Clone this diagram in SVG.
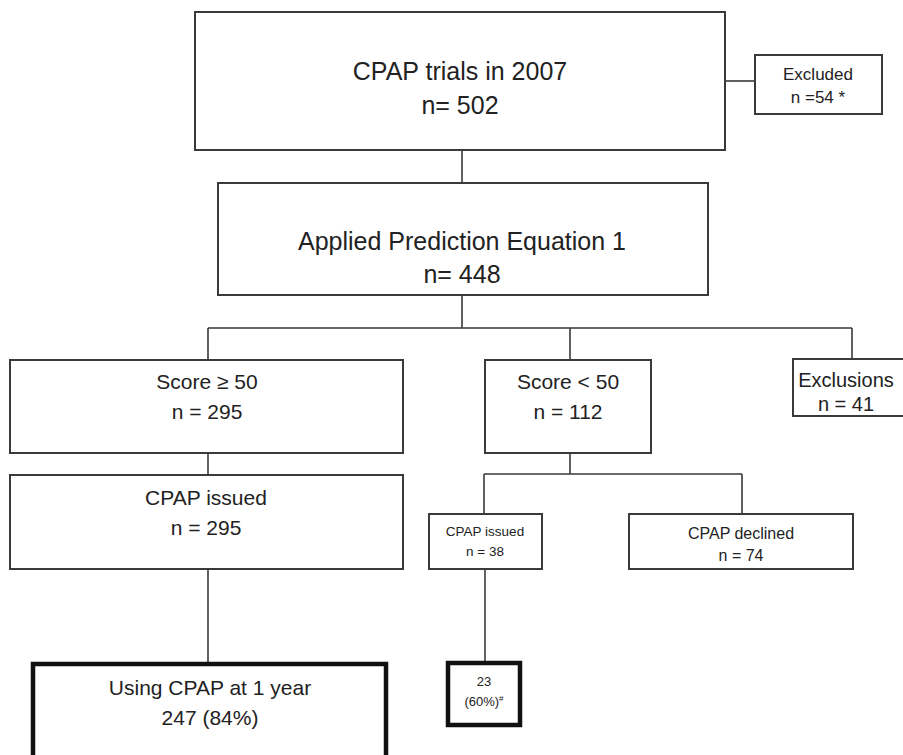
<svg xmlns="http://www.w3.org/2000/svg" width="903" height="755" viewBox="0 0 903 755">
<style>
.box{fill:#fff;stroke:#3a3a3a;stroke-width:2}
.thick{fill:#fff;stroke:#111;stroke-width:4.5}
.ln{fill:none;stroke:#3a3a3a;stroke-width:1.6}
text{font-family:"Liberation Sans",Arial,sans-serif;fill:#222;text-anchor:middle}
</style>
<rect width="903" height="755" fill="#fff"/>
<g id="connectors">
<path class="ln" d="M725 81H755"/>
<path class="ln" d="M462 150V183"/>
<path class="ln" d="M462 295V328M208 328H852M208 328V360M570 328V360M852 328V359"/>
<path class="ln" d="M208 453V475"/>
<path class="ln" d="M208 569V664"/>
<path class="ln" d="M570 453V474M484 474H742M484 474V514M742 474V514"/>
<path class="ln" d="M485 569V663"/>
</g>
<g id="n_trials">
<rect class="box" x="195" y="12" width="530" height="138"/>
<text x="460" y="80" font-size="25">CPAP trials in 2007</text>
<text x="460" y="114" font-size="25">n= 502</text>
</g>
<g id="n_excluded">
<rect class="box" x="755" y="55" width="127" height="59"/>
<text x="818" y="80" font-size="17">Excluded</text>
<text x="818" y="103" font-size="17">n =54 *</text>
</g>
<g id="n_applied">
<rect class="box" x="218" y="183" width="490" height="112"/>
<text x="462" y="250" font-size="25">Applied Prediction Equation 1</text>
<text x="462" y="283" font-size="25">n= 448</text>
</g>
<g id="n_score_high">
<rect class="box" x="10" y="360" width="393" height="93"/>
<text x="207" y="389" font-size="21">Score ≥ 50</text>
<text x="207" y="419" font-size="21">n = 295</text>
</g>
<g id="n_score_low">
<rect class="box" x="485" y="360" width="166" height="93"/>
<text x="568" y="389" font-size="21">Score &lt; 50</text>
<text x="568" y="419" font-size="21">n = 112</text>
</g>
<g id="n_exclusions">
<rect class="box" x="793" y="359" width="115" height="57"/>
<text x="846" y="387" font-size="20">Exclusions</text>
<text x="846" y="411" font-size="20">n = 41</text>
</g>
<g id="n_issued_high">
<rect class="box" x="10" y="475" width="393" height="94"/>
<text x="206" y="505" font-size="21">CPAP issued</text>
<text x="206" y="535" font-size="21">n = 295</text>
</g>
<g id="n_issued_low">
<rect class="box" x="429" y="514" width="113" height="55"/>
<text x="485" y="536" font-size="13.5">CPAP issued</text>
<text x="485" y="556" font-size="13.5">n = 38</text>
</g>
<g id="n_declined">
<rect class="box" x="629" y="514" width="224" height="55"/>
<text x="741" y="539" font-size="16">CPAP declined</text>
<text x="741" y="561" font-size="16">n = 74</text>
</g>
<g id="n_using_high">
<rect class="thick" x="33" y="664" width="353" height="100"/>
<text x="210" y="695" font-size="21">Using CPAP at 1 year</text>
<text x="210" y="725" font-size="21">247 (84%)</text>
</g>
<g id="n_using_low">
<rect class="thick" x="448" y="663" width="72" height="62"/>
<text x="484" y="686" font-size="13">23</text>
<text x="484" y="706" font-size="13">(60%)<tspan font-size="8" dy="-5">#</tspan></text>
</g>
</svg>
